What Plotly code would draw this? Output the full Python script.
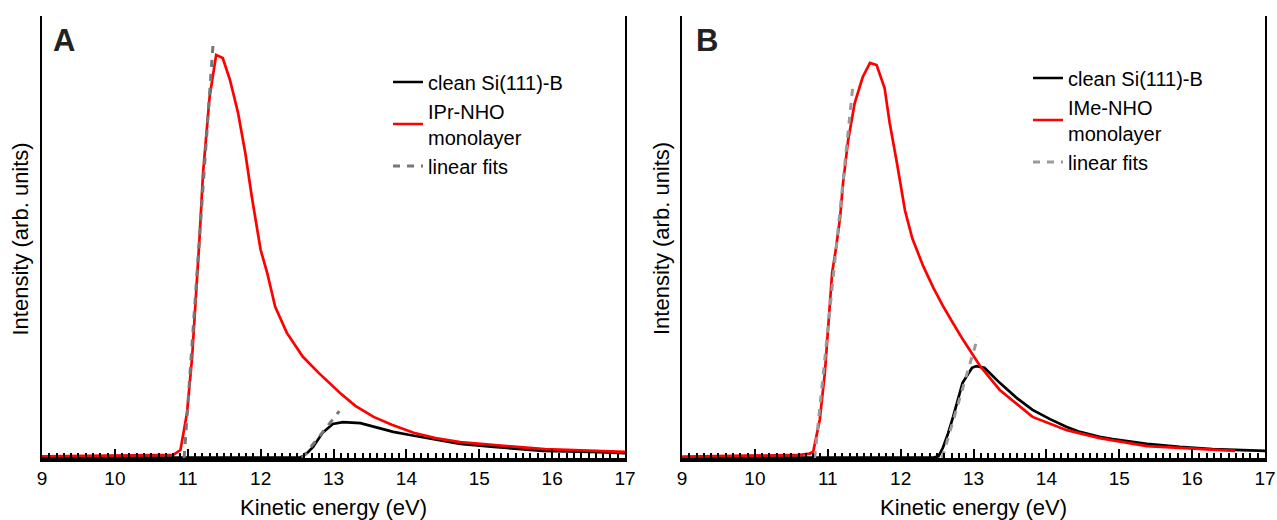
import plotly.graph_objects as go

# ---------------- data ----------------
tick_vals = [9, 10, 11, 12, 13, 14, 15, 16, 17]
tick_text = ["9", "10", "11", "12", "13", "14", "15", "16", "17"]
half_ticks = [9.5, 10.5, 11.5, 12.5, 13.5, 14.5, 15.5, 16.5]

# Panel A
a_clean_x = [9.0, 10.0, 11.0, 12.0, 12.54, 12.58, 12.65, 12.72, 12.85, 12.99, 13.13,
             13.37, 13.6, 13.82, 14.05, 14.29, 14.74, 15.2, 15.87, 16.55, 17.0]
a_clean_y = [0.001, 0.001, 0.001, 0.001, 0.001, 0.004, 0.013, 0.025, 0.057, 0.077, 0.081,
             0.079, 0.069, 0.059, 0.052, 0.045, 0.032, 0.025, 0.016, 0.014, 0.011]
a_mono_x = [9.0, 10.0, 10.5, 10.8, 10.9, 10.99, 11.06, 11.12, 11.16, 11.21, 11.26, 11.30,
            11.39, 11.48, 11.58, 11.69, 11.79, 11.88, 12.0, 12.09, 12.2, 12.36, 12.58,
            12.8, 13.09, 13.3, 13.55, 13.8, 14.1, 14.4, 14.74, 15.2, 15.6, 15.9, 16.3,
            16.6, 17.0]
a_mono_y = [0.004, 0.005, 0.006, 0.007, 0.018, 0.102, 0.228, 0.380, 0.493, 0.645, 0.742,
            0.817, 0.912, 0.905, 0.855, 0.781, 0.690, 0.590, 0.471, 0.419, 0.342, 0.283,
            0.229, 0.192, 0.147, 0.118, 0.093, 0.075, 0.057, 0.045, 0.036, 0.029, 0.024,
            0.020, 0.018, 0.016, 0.014]
a_fit_x = [10.95, 11.35, None, 12.57, 13.08]
a_fit_y = [0.0, 0.943, None, 0.0, 0.106]

# Panel B
b_clean_x = [9.0, 11.0, 12.0, 12.45, 12.52, 12.58, 12.65, 12.72, 12.85, 12.98, 13.04,
             13.15, 13.36, 13.6, 13.81, 14.05, 14.28, 14.46, 14.73, 14.91, 15.38, 15.83,
             16.28, 17.0]
b_clean_y = [0.001, 0.001, 0.001, 0.001, 0.004, 0.023, 0.055, 0.093, 0.170, 0.204, 0.208,
             0.204, 0.170, 0.135, 0.109, 0.088, 0.070, 0.059, 0.048, 0.043, 0.032, 0.025,
             0.020, 0.016]
b_mono_x = [9.0, 10.0, 10.62, 10.75, 10.80, 10.89, 10.96, 11.01, 11.06, 11.11, 11.17,
            11.21, 11.28, 11.37, 11.48, 11.58, 11.67, 11.78, 11.85, 11.95, 12.06, 12.16,
            12.31, 12.45, 12.58, 12.72, 12.85, 13.09, 13.36, 13.81, 14.28, 14.73, 15.38,
            15.83, 16.59]
b_mono_y = [0.003, 0.005, 0.007, 0.010, 0.014, 0.086, 0.192, 0.305, 0.419, 0.471, 0.545,
            0.622, 0.719, 0.803, 0.862, 0.894, 0.889, 0.837, 0.758, 0.667, 0.560, 0.497,
            0.434, 0.385, 0.344, 0.305, 0.269, 0.208, 0.154, 0.093, 0.063, 0.045, 0.027,
            0.023, 0.016]
b_fit_x = [10.82, 11.35, None, 12.57, 13.06]
b_fit_y = [0.0, 0.851, None, 0.0, 0.274]

x_title = "Kinetic energy (eV)"
y_title = "Intensity (arb. units)"

# ---------------- figure ----------------
FONT = "Arial, Liberation Sans, sans-serif"
fig = go.Figure()

def add_panel(xa, ya, leg, grp, cx, cy, mx, my, mname, fx, fy, fitcolor):
    fig.add_trace(go.Scatter(x=cx, y=cy, mode="lines", name="clean Si(111)-B",
                             line=dict(color="black", width=2.7),
                             xaxis=xa, yaxis=ya, legend=leg, legendgroup=grp + "1"))
    fig.add_trace(go.Scatter(x=mx, y=my, mode="lines", name=mname,
                             line=dict(color="#ff0000", width=2.7),
                             xaxis=xa, yaxis=ya, legend=leg, legendgroup=grp + "1"))
    fig.add_trace(go.Scatter(x=fx, y=fy, mode="lines", name="linear fits",
                             line=dict(color=fitcolor, width=3, dash="7px,7px"),
                             xaxis=xa, yaxis=ya, legend=leg, legendgroup=grp + "2"))

add_panel("x", "y", "legend", "A", a_clean_x, a_clean_y, a_mono_x, a_mono_y,
          "IPr-NHO<br>monolayer", a_fit_x, a_fit_y, "#777777")
add_panel("x2", "y2", "legend2", "B", b_clean_x, b_clean_y, b_mono_x, b_mono_y,
          "IMe-NHO<br>monolayer", b_fit_x, b_fit_y, "#9a9a9a")

W, H = 1277, 520
domA = [42 / W, 625 / W]
domB = [682 / W, 1265 / W]
ydom = [1 - 458 / H, 1 - 16 / H]

def main_x(dom, anchor):
    return dict(domain=dom, anchor=anchor, range=[9, 17], tickmode="array",
                tickvals=tick_vals, ticktext=tick_text, ticks="inside", ticklen=9,
                tickwidth=2, tickcolor="black",
                minor=dict(dtick=0.1, tick0=9, ticks="inside", ticklen=5, tickwidth=2,
                           tickcolor="black", showgrid=False),
                showline=True, linewidth=4, linecolor="black", mirror=False,
                showgrid=False, zeroline=False,
                tickfont=dict(family=FONT, size=19, color="black"),
                automargin=False)

def half_x(over, anchor):
    return dict(overlaying=over, anchor=anchor, range=[9, 17], tickmode="array",
                tickvals=half_ticks, ticks="inside", ticklen=7, tickwidth=2,
                tickcolor="black", showticklabels=False, showline=True, linewidth=2,
                linecolor="black", mirror=True, showgrid=False, zeroline=False,
                automargin=False)

def main_y(anchor):
    return dict(domain=ydom, anchor=anchor, range=[0, 1], showticklabels=False,
                ticks="", showline=True, linewidth=2, linecolor="black", mirror=True,
                showgrid=False, zeroline=False, automargin=False)

def legend_at(x, y):
    return dict(x=x, y=y, xanchor="left", yanchor="top", bgcolor="rgba(0,0,0,0)",
                font=dict(family=FONT, size=20, color="black"),
                traceorder="grouped", tracegroupgap=0, itemclick=False,
                itemdoubleclick=False)

title_font = dict(family=FONT, size=22, color="black")
annotations = []
for xd, xc_px, ycx_px, letter in [("x", 333, 20.5, "A"), ("x2", 973, 662, "B")]:
    annotations.append(dict(text=x_title, xref="paper", yref="paper", x=xc_px / W,
                            y=1 - 507 / H, xanchor="center", yanchor="middle",
                            showarrow=False, font=title_font))
    annotations.append(dict(text=y_title, xref="paper", yref="paper", x=ycx_px / W,
                            y=1 - 239 / H, xanchor="center", yanchor="middle",
                            textangle=-90, showarrow=False, font=title_font))
    annotations.append(dict(text="<b>" + letter + "</b>", xref=xd + " domain",
                            yref="paper", x=0.016 if letter == "A" else 0.020,
                            y=1 - 21 / H, xanchor="left", yanchor="top",
                            showarrow=False,
                            font=dict(family=FONT, size=31, color="#222222")))

fig.update_layout(
    width=W, height=H,
    margin=dict(l=0, r=0, t=0, b=0),
    paper_bgcolor="white", plot_bgcolor="white",
    font=dict(family=FONT, color="black"),
    xaxis=main_x(domA, "y"),
    xaxis2=main_x(domB, "y2"),
    xaxis3=half_x("x", "y"),
    xaxis4=half_x("x2", "y2"),
    yaxis=main_y("x"),
    yaxis2=main_y("x2"),
    legend=legend_at(388 / W, 1 - 62.5 / H),
    legend2=legend_at(1028 / W, 1 - 58.5 / H),
    showlegend=True,
    annotations=annotations,
)

fig.write_html("out.html", config={"displayModeBar": False},
               post_script="document.body.style.margin='0px';")
